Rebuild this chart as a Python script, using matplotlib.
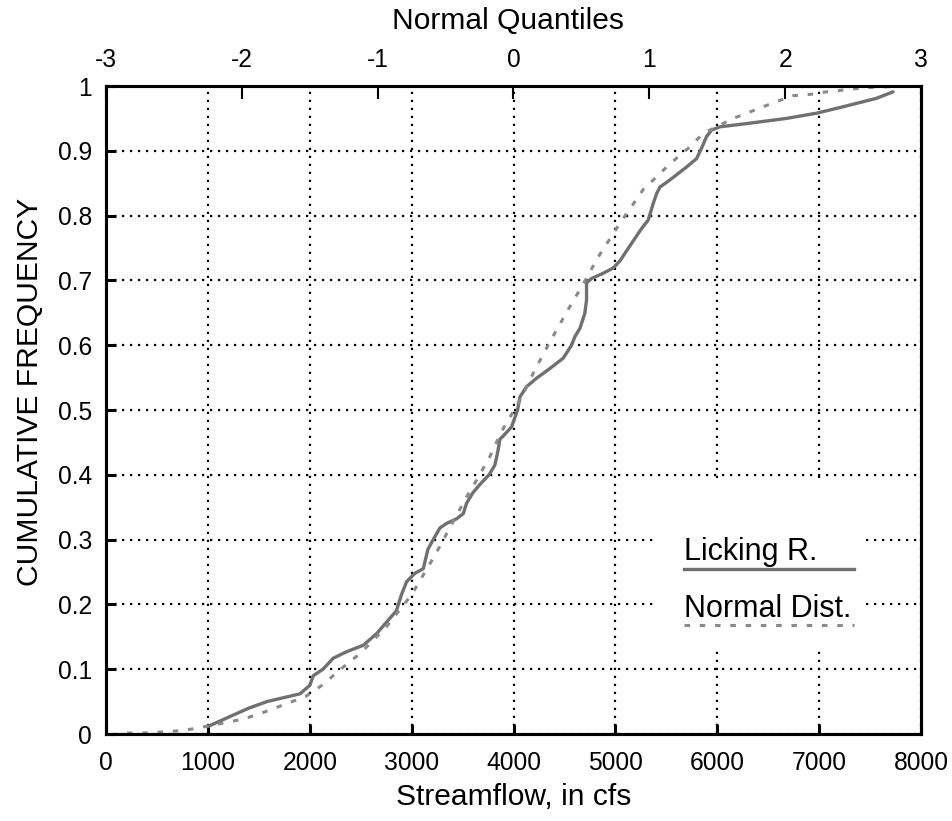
import matplotlib
matplotlib.use("Agg")
import matplotlib.pyplot as plt
from matplotlib.patches import Rectangle

plt.rcParams['font.family'] = ['Liberation Sans', 'DejaVu Sans']

# Licking R. empirical cumulative frequency (streamflow cfs, cumulative frequency)
licking_x = [991, 1246, 1403, 1580, 1904, 2000, 2035, 2130, 2231, 2362, 2526, 2657,
             2750, 2850, 2900, 2951, 3032, 3114, 3160, 3212, 3278, 3343, 3441, 3507,
             3539, 3600, 3670, 3760, 3817, 3845, 3867, 3900, 3981, 4040, 4063, 4128,
             4226, 4357, 4488, 4570, 4602, 4652, 4700, 4717, 4717, 4766, 4880, 4978,
             5044, 5150, 5257, 5322, 5372, 5405, 5437, 5535, 5699, 5797, 5846, 5895,
             5944, 6026, 6288, 6680, 6974, 7236, 7563, 7726]
licking_y = [0.011, 0.029, 0.040, 0.050, 0.062, 0.075, 0.090, 0.100, 0.117, 0.127, 0.137, 0.155,
             0.172, 0.190, 0.215, 0.235, 0.248, 0.255, 0.285, 0.300, 0.318, 0.325, 0.332, 0.340,
             0.356, 0.372, 0.385, 0.400, 0.415, 0.435, 0.455, 0.460, 0.474, 0.500, 0.520, 0.536,
             0.549, 0.564, 0.580, 0.600, 0.613, 0.626, 0.649, 0.670, 0.696, 0.703, 0.711, 0.719,
             0.730, 0.755, 0.780, 0.793, 0.819, 0.834, 0.844, 0.855, 0.875, 0.888, 0.904, 0.922,
             0.932, 0.937, 0.942, 0.950, 0.958, 0.968, 0.981, 0.991]

# Normal distribution curve
normal_x = [206, 363, 530, 687, 844, 991, 1346, 1486, 1626, 1793, 1961, 2128, 2296,
            2500, 2750, 3000, 3229, 3278, 3540, 3638, 3768, 3883, 4063, 4210, 4357,
            4514, 4668, 4831, 5044, 5159, 5272, 5405, 5503, 5617, 5731, 5862, 5993,
            6156, 6288, 6451, 6582, 6745, 6909, 7072, 7366, 7530, 7694, 7792]
normal_y = [0.0015, 0.0015, 0.003, 0.0046, 0.0077, 0.012, 0.023, 0.030, 0.038, 0.048, 0.058, 0.076, 0.099,
            0.125, 0.165, 0.215, 0.276, 0.290, 0.366, 0.392, 0.428, 0.467, 0.515, 0.562, 0.605,
            0.649, 0.690, 0.736, 0.788, 0.814, 0.840, 0.860, 0.875, 0.891, 0.906, 0.927, 0.937,
            0.950, 0.958, 0.968, 0.976, 0.985, 0.987, 0.991, 0.996, 0.998, 0.999, 1.0]

x_ticks = [0, 1000, 2000, 3000, 4000, 5000, 6000, 7000, 8000]
y_ticks = [0, 0.1, 0.2, 0.3, 0.4, 0.5, 0.6, 0.7, 0.8, 0.9, 1.0]
y_tick_labels = ["0", "0.1", "0.2", "0.3", "0.4", "0.5", "0.6", "0.7", "0.8", "0.9", "1"]
top_ticks = [-3, -2, -1, 0, 1, 2, 3]
series_names = ["Licking R.", "Normal Dist."]

W, H = 953, 821
fig = plt.figure(figsize=(W / 100, H / 100), dpi=100)
L, R, T, B = 106, 921, 86, 734
ax = fig.add_axes([L / W, 1 - B / H, (R - L) / W, (B - T) / H])

ax.set_xlim(0, 8000)
ax.set_ylim(0, 1)
ax.set_xticks(x_ticks)
ax.set_xticklabels([str(v) for v in x_ticks])
ax.set_yticks(y_ticks)
ax.set_yticklabels(y_tick_labels)
ax.set_axisbelow(True)
ax.grid(True, color='black', linestyle=(0, (1, 2.6)), linewidth=1.6)
ax.tick_params(axis='both', direction='in', length=7, width=2.2, labelsize=17.7,
               top=False, right=False)
ax.tick_params(axis='x', pad=12)
ax.tick_params(axis='y', pad=10)
for sp in ax.spines.values():
    sp.set_linewidth(2.2)

ax.plot(licking_x, licking_y, color='#707070', linewidth=2.4, solid_capstyle='round', zorder=3)
ax.plot(normal_x, normal_y, color='#8a8a8a', linewidth=2.2, linestyle=(0, (1.8, 3.2)), zorder=3)

# legend block
ax.add_patch(Rectangle((5407, 0.133), 7419 - 5407, 0.389 - 0.133, facecolor='white',
                       edgecolor='none', zorder=1))
ax.text(5672, 0.2685, series_names[0], fontsize=22, ha='left', va='baseline', zorder=4)
ax.plot([5672, 7340], [0.2546, 0.2546], color='#707070', linewidth=2.4, zorder=4)
ax.text(5672, 0.1806, series_names[1], fontsize=22, ha='left', va='baseline', zorder=4)
ax.plot([5672, 7340], [0.168, 0.168], color='#8a8a8a', linewidth=2.2,
        linestyle=(0, (1.8, 3.2)), zorder=4)

ax2 = ax.twiny()
ax2.set_xlim(-3, 3)
ax2.set_xticks(top_ticks)
ax2.set_xticklabels([str(v) for v in top_ticks])
ax2.tick_params(axis='x', direction='in', length=9, width=1.5, labelsize=17.7, pad=10)
for sp in ax2.spines.values():
    sp.set_linewidth(2.2)

fig.text(508 / W, 1 - 21 / H, "Normal Quantiles", fontsize=21.6, ha='center', va='center')
fig.text(514 / W, 1 - 797 / H, "Streamflow, in cfs", fontsize=21.6, ha='center', va='center')
fig.text(30 / W, 1 - 392 / H, "CUMULATIVE FREQUENCY", fontsize=21.6, ha='center',
         va='center', rotation=90)

fig.savefig("out.png", dpi=100)
